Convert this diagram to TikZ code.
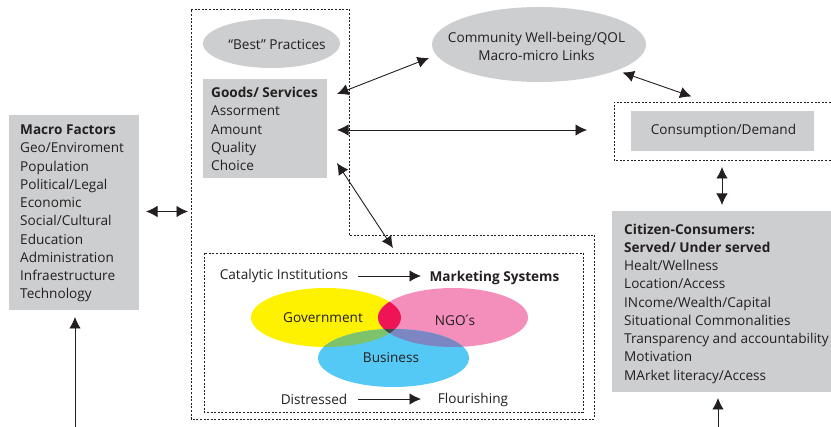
\documentclass[tikz,border=0pt]{standalone}
\usepackage{fontspec}
\setmainfont{Open Sans}
\usetikzlibrary{arrows.meta,shapes.geometric}
\definecolor{boxgray}{HTML}{CDCED0}
\definecolor{ink}{HTML}{231F20}
\definecolor{vyellow}{HTML}{FFF200}
\definecolor{vpink}{HTML}{F48FBB}
\definecolor{vblue}{HTML}{55C9F5}
\definecolor{vyp}{HTML}{ED1556}
\definecolor{vyb}{HTML}{7DC36B}
\definecolor{vpb}{HTML}{7B86C2}
\definecolor{vall}{HTML}{3F4A4A}
\tikzset{
  txt/.style={text=ink,font=\fontsize{13.6}{18.25}\selectfont,inner sep=0pt},
  list/.style={txt,align=left,anchor=west},
  graybox/.style={fill=boxgray,inner sep=0pt,anchor=center},
  grayell/.style={fill=boxgray,ellipse,inner sep=0pt},
  frame/.style={draw=ink,line width=0.85pt,dash pattern=on 2pt off 1.6pt},
  both/.style={draw=ink,line width=0.9pt,{Latex[length=11.5pt,width=11.5pt]}-{Latex[length=11.5pt,width=11.5pt]}},
  one/.style={draw=ink,line width=0.9pt,-{Latex[length=11.5pt,width=11.5pt]}}
}
\begin{document}
\begin{tikzpicture}[x=1pt,y=-1pt]
\useasboundingbox (0,0) rectangle (831,427);
% frames
\draw[frame] (191,9) -- (349,9) -- (349,235) -- (594.5,235) -- (594.5,419) -- (191,419) -- cycle;
\draw[frame] (204,253) rectangle (583,412);
\draw[frame] (831,102) -- (614,102) -- (614,160) -- (831,160);
% gray nodes
\node[graybox,minimum width=130pt,minimum height=195pt] (macro) at (74,212.5) {};
\node[list] (macrotext) at (20,213.5)
 {\textbf{Macro Factors}\\Geo/Enviroment\\Population\\Political/Legal\\Economic\\Social/Cultural\\Education\\Administration\\Infraestructure\\Technology};
\node[graybox,minimum width=124pt,minimum height=99pt] (goods) at (265,128.5) {};
\node[list] (goodstext) at (211,129)
 {\textbf{Goods/ Services}\\Assorment\\Amount\\Quality\\Choice};
\node[grayell,minimum width=137pt,minimum height=49pt] (best) at (271.5,43.5) {};
\node[txt] (besttext) at (277,45) {“Best” Practices};
\node[grayell,minimum width=214pt,minimum height=75pt] (community) at (539,44.5) {};
\node[txt,align=center] (communitytext) at (536.5,46.5)
 {Community Well-being/QOL\\Macro-micro Links};
\node[graybox,minimum width=183pt,minimum height=40pt] (consumption) at (722.5,131) {};
\node[txt] (consumptiontext) at (723.5,131) {Consumption/Demand};
\node[graybox,minimum width=219pt,minimum height=181pt] (citizen) at (721.5,301.5) {};
\node[list] (citizentext) at (624,303.5)
 {\textbf{Citizen-Consumers:}\\\textbf{Served/ Under served}\\Healt/Wellness\\Location/Access\\INcome/Wealth/Capital\\Situational Commonalities\\Transparency and accountability\\Motivation\\MArket literacy/Access};
% venn
\def\ey{(326,317.5) ellipse [x radius=75,y radius=29.5]}
\def\ep{(453,317.5) ellipse [x radius=75,y radius=29.5]}
\def\eb{(393.5,358) ellipse [x radius=75.5,y radius=29]}
\fill[vyellow] \ey;
\fill[vpink] \ep;
\fill[vblue] \eb;
\begin{scope}\clip \ey; \fill[vyp] \ep; \fill[vyb] \eb; \end{scope}
\begin{scope}\clip \ep; \fill[vpb] \eb; \end{scope}
\begin{scope}\clip \ey; \clip \ep; \fill[vall] \eb; \end{scope}
\node[txt] (gov) at (323,317.5) {Government};
\node[txt] (ngo) at (455,320.5) {NGO\kern-2.5pt´\kern-2.5pt s};
\node[txt] (bus) at (391,357.5) {Business};
% labels
\node[txt] (cat) at (284,275.5) {Catalytic Institutions};
\node[txt] (ms) at (494.5,277.5) {\textbf{Marketing Systems}};
\node[txt] (dis) at (314,399.5) {Distressed};
\node[txt] (flo) at (473,399.5) {Flourishing};
% connector ends
\coordinate (a1) at (337,94); \coordinate (a2) at (429,58);
\coordinate (b1) at (337,130); \coordinate (b2) at (587,130);
\coordinate (c1) at (337,163); \coordinate (c2) at (393,248);
\coordinate (d1) at (622.5,72.5); \coordinate (d2) at (691.5,96.5);
\coordinate (e1) at (722,167); \coordinate (e2) at (722,205);
\coordinate (f1) at (146,211.5); \coordinate (f2) at (188,211.5);
\coordinate (g1) at (75,427); \coordinate (g2) at (75,317);
\coordinate (h1) at (718,427); \coordinate (h2) at (718,398);
\coordinate (i1) at (358,276); \coordinate (i2) at (421,276);
\coordinate (j1) at (358,399); \coordinate (j2) at (421,399);
\draw[both] (a1) -- (a2);
\draw[both] (b1) -- (b2);
\draw[both] (c1) -- (c2);
\draw[both] (d1) -- (d2);
\draw[both] (e1) -- (e2);
\draw[both] (f1) -- (f2);
\draw[one] (g1) -- (g2);
\draw[one] (h1) -- (h2);
\draw[one] (i1) -- (i2);
\draw[one] (j1) -- (j2);
\end{tikzpicture}
\end{document}
